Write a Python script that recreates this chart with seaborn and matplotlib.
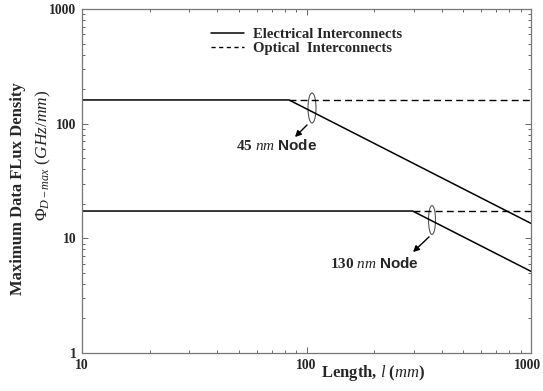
import matplotlib
matplotlib.use("Agg")
import matplotlib.pyplot as plt
import matplotlib.transforms as mtransforms
from matplotlib.patches import Ellipse
from matplotlib.ticker import LogLocator, NullFormatter, FixedLocator
from matplotlib.lines import Line2D
import seaborn as sns
import pandas as pd

# ---- data ----
elec45_len = [10, 83.6, 1000]
elec45_val = [161, 161, 13.5]
opt45_len = [83.6, 1000]
opt45_val = [161, 161]
elec130_len = [10, 297, 1000]
elec130_val = [17.3, 17.3, 5.15]
opt130_len = [297, 1000]
opt130_val = [17.3, 17.3]
tick_vals = [10, 100, 1000]
ytick_vals = [1, 10, 100, 1000]

sns.set_style("ticks")
plt.rcParams['font.family'] = ['Liberation Serif', 'DejaVu Serif']
plt.rcParams['mathtext.fontset'] = 'custom'
plt.rcParams['mathtext.rm'] = 'Liberation Serif'
plt.rcParams['mathtext.it'] = 'Liberation Serif:italic'
plt.rcParams['mathtext.bf'] = 'Liberation Serif:bold'
plt.rcParams['mathtext.sf'] = 'Liberation Sans:bold'

fig = plt.figure(figsize=(5.43, 3.91), dpi=100)
ax = fig.add_axes([82/543, 1-353/391, 449/543, 344/391])

df_e45 = pd.DataFrame({"l": elec45_len, "v": elec45_val})
df_o45 = pd.DataFrame({"l": opt45_len, "v": opt45_val})
df_e130 = pd.DataFrame({"l": elec130_len, "v": elec130_val})
df_o130 = pd.DataFrame({"l": opt130_len, "v": opt130_val})

dash = (0, (5, 3))
sns.lineplot(data=df_o45, x="l", y="v", ax=ax, color="black", lw=1.0, linestyle=dash)
sns.lineplot(data=df_o130, x="l", y="v", ax=ax, color="black", lw=1.0, linestyle=dash)
sns.lineplot(data=df_e45, x="l", y="v", ax=ax, color="black", lw=1.1)
sns.lineplot(data=df_e130, x="l", y="v", ax=ax, color="black", lw=1.1)

ax.set_xscale("log")
ax.set_yscale("log")
ax.set_xlim(10, 1000)
ax.set_ylim(1, 1000)
ax.set_xlabel("")
ax.set_ylabel("")

ax.xaxis.set_major_locator(FixedLocator(tick_vals))
ax.yaxis.set_major_locator(FixedLocator(ytick_vals))
ax.set_xticklabels([str(t) for t in tick_vals])
ax.set_yticklabels([str(t) for t in ytick_vals])
ax.xaxis.set_minor_locator(LogLocator(base=10, subs=range(2, 10)))
ax.yaxis.set_minor_locator(LogLocator(base=10, subs=range(2, 10)))
ax.xaxis.set_minor_formatter(NullFormatter())
ax.yaxis.set_minor_formatter(NullFormatter())
ax.tick_params(which="both", direction="in", top=True, right=True, color="#666666", width=0.7)
ax.tick_params(which="major", length=4)
ax.tick_params(axis="x", which="major", pad=4)
ax.tick_params(axis="y", which="major", pad=4)
ax.tick_params(which="minor", length=2.5)
for lab in ax.get_xticklabels() + ax.get_yticklabels():
    lab.set_fontweight("bold")
    lab.set_fontsize(9.8)
# nudge the rightmost x label so it stays inside the figure
last = ax.get_xticklabels()[-1]
last.set_transform(last.get_transform() + mtransforms.ScaledTranslation(-4/100, 0, fig.dpi_scale_trans))
for s in ax.spines.values():
    s.set_color("#777777")
    s.set_linewidth(0.9)

# legend
handles = [Line2D([], [], color="black", lw=1.1),
           Line2D([], [], color="black", lw=1.0, linestyle=(0, (3, 2.5)))]
leg = ax.legend(handles, ["Electrical Interconnects", "Optical  Interconnects"],
                loc="upper left", bbox_to_anchor=((205-82)/449, 1-(22-9)/344),
                frameon=False, handlelength=2.25, handletextpad=0.65,
                labelspacing=0.05, borderaxespad=0,
                prop={"family": "Liberation Serif", "weight": "bold", "size": 10.5})

# node annotations
ax.add_patch(Ellipse(((312-82)/449, 1-(108-9)/344), 8/449, 30/344,
                     transform=ax.transAxes, fill=False, ec="#555555", lw=0.8))
ax.add_patch(Ellipse(((432-82)/449, 1-(220-9)/344), 7/449, 29/344,
                     transform=ax.transAxes, fill=False, ec="#555555", lw=0.8))
ax.annotate("", xy=((293-82)/449, 1-(139-9)/344), xytext=((309-82)/449, 1-(123-9)/344),
            xycoords="axes fraction",
            arrowprops=dict(arrowstyle="-|>", color="black", lw=1.0, mutation_scale=9))
ax.annotate("", xy=((411-82)/449, 1-(254-9)/344), xytext=((431-82)/449, 1-(235-9)/344),
            xycoords="axes fraction",
            arrowprops=dict(arrowstyle="-|>", color="black", lw=1.0, mutation_scale=9))
ax.text((277-82)/449, 1-(145-9)/344, r"45 $\mathit{nm}$ $\mathsf{Node}$",
        transform=ax.transAxes, ha="center", va="center", fontsize=11, fontweight="bold")
ax.text((374-82)/449, 1-(263-9)/344, r"130 $\mathit{nm}$ $\mathsf{Node}$",
        transform=ax.transAxes, ha="center", va="center", fontsize=11, fontweight="bold")

# axis labels
fig.text(18/543, 1-189/391, "Maximum Data FLux Density", rotation=90,
         ha="center", va="center", fontsize=12, fontweight="bold")
fig.text(43/543, 1-155/391, r"$\Phi_{D-max}\ (GHz/mm)$", rotation=90,
         ha="center", va="center", fontsize=12.5)
fig.text(373/543, 1-373/391, r"Length, $\mathit{l}$ ($\mathit{mm}$)",
         ha="center", va="center", fontsize=12, fontweight="bold")

fig.savefig("out.png", dpi=100)
